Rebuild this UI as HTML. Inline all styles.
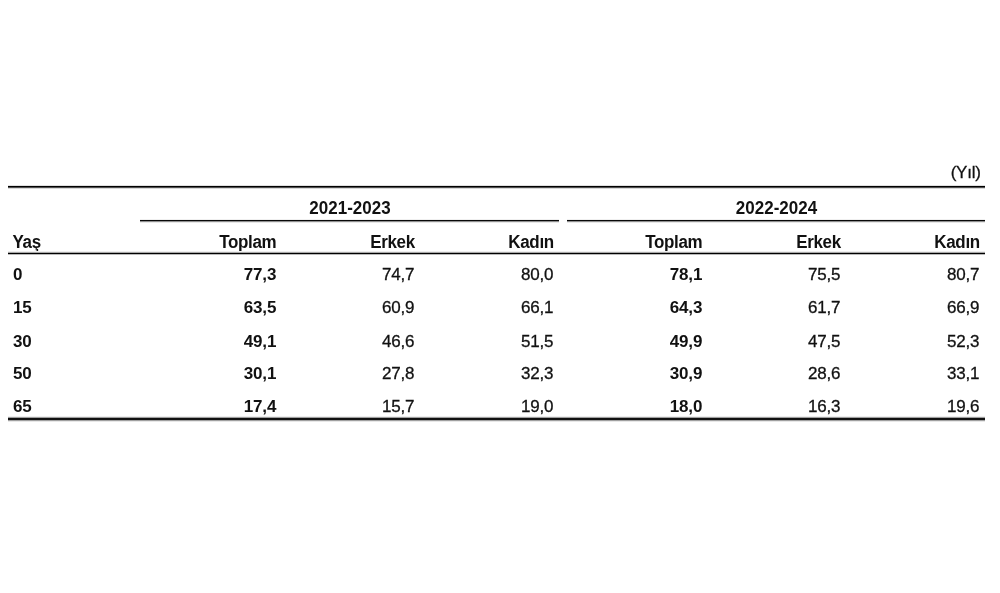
<!DOCTYPE html>
<html><head><meta charset="utf-8"><style>
html,body{margin:0;padding:0;background:#fff;width:1000px;height:593px;overflow:hidden}
.t{position:absolute;font-family:"Liberation Sans",sans-serif;font-size:17px;line-height:normal;white-space:nowrap;color:#111;transform-origin:0 15.38px;transform:translateZ(0) scaleY(1.03)}
.r{-webkit-text-stroke:0.3px #111}
.l{position:absolute}
</style></head><body>
<div class="t r" style="top:163.42px;right:19.20px;text-align:right;letter-spacing:-0.2px;transform:translateZ(0) scaleY(1.0);">(Yıl)</div>
<div class="l" style="left:8px;width:976.5px;top:185px;height:1px;background:#e0e0e0"></div>
<div class="l" style="left:8px;width:976.5px;top:186px;height:1px;background:#000"></div>
<div class="l" style="left:8px;width:976.5px;top:187px;height:1px;background:#505050"></div>
<div class="l" style="left:8px;width:976.5px;top:188px;height:1px;background:#d8d8d8"></div>
<div class="t" style="top:198.62px;left:250.00px;width:200px;text-align:center;font-weight:bold;transform:translateZ(0) scaleY(1.03);">2021-2023</div>
<div class="t" style="top:198.62px;left:676.50px;width:200px;text-align:center;font-weight:bold;transform:translateZ(0) scaleY(1.03);">2022-2024</div>
<div class="l" style="left:140px;width:419px;top:219px;height:1px;background:#f0f0f0"></div>
<div class="l" style="left:140px;width:419px;top:220px;height:1px;background:#080808"></div>
<div class="l" style="left:140px;width:419px;top:221px;height:1px;background:#909090"></div>
<div class="l" style="left:140px;width:419px;top:222px;height:1px;background:#e8e8e8"></div>
<div class="l" style="left:567px;width:417.5px;top:219px;height:1px;background:#f0f0f0"></div>
<div class="l" style="left:567px;width:417.5px;top:220px;height:1px;background:#080808"></div>
<div class="l" style="left:567px;width:417.5px;top:221px;height:1px;background:#909090"></div>
<div class="l" style="left:567px;width:417.5px;top:222px;height:1px;background:#e8e8e8"></div>
<div class="t" style="top:232.81px;left:12.50px;font-weight:bold;letter-spacing:-0.35px;transform:translateZ(0) scaleY(1.03);">Yaş</div>
<div class="t" style="top:232.81px;right:723.70px;text-align:right;font-weight:bold;letter-spacing:-0.35px;transform:translateZ(0) scaleY(1.03);">Toplam</div>
<div class="t" style="top:232.81px;right:585.20px;text-align:right;font-weight:bold;letter-spacing:-0.35px;transform:translateZ(0) scaleY(1.03);">Erkek</div>
<div class="t" style="top:232.81px;right:446.20px;text-align:right;font-weight:bold;letter-spacing:-0.35px;transform:translateZ(0) scaleY(1.03);">Kadın</div>
<div class="t" style="top:232.81px;right:297.70px;text-align:right;font-weight:bold;letter-spacing:-0.35px;transform:translateZ(0) scaleY(1.03);">Toplam</div>
<div class="t" style="top:232.81px;right:159.20px;text-align:right;font-weight:bold;letter-spacing:-0.35px;transform:translateZ(0) scaleY(1.03);">Erkek</div>
<div class="t" style="top:232.81px;right:20.20px;text-align:right;font-weight:bold;letter-spacing:-0.35px;transform:translateZ(0) scaleY(1.03);">Kadın</div>
<div class="l" style="left:8px;width:976.5px;top:251px;height:1px;background:#eeeeee"></div>
<div class="l" style="left:8px;width:976.5px;top:252px;height:1px;background:#a8a8a8"></div>
<div class="l" style="left:8px;width:976.5px;top:253px;height:1px;background:#000"></div>
<div class="l" style="left:8px;width:976.5px;top:254px;height:1px;background:#b8b8b8"></div>
<div class="t" style="top:264.62px;left:12.90px;font-weight:bold;transform:translateZ(0) scaleY(1.0);">0</div>
<div class="t" style="top:264.62px;right:723.80px;text-align:right;font-weight:bold;letter-spacing:-0.15px;transform:translateZ(0) scaleY(1.0);">77,3</div>
<div class="t r" style="top:264.62px;right:585.80px;text-align:right;letter-spacing:-0.25px;transform:translateZ(0) scaleY(1.0);">74,7</div>
<div class="t r" style="top:264.62px;right:446.80px;text-align:right;letter-spacing:-0.25px;transform:translateZ(0) scaleY(1.0);">80,0</div>
<div class="t" style="top:264.62px;right:297.80px;text-align:right;font-weight:bold;letter-spacing:-0.15px;transform:translateZ(0) scaleY(1.0);">78,1</div>
<div class="t r" style="top:264.62px;right:159.80px;text-align:right;letter-spacing:-0.25px;transform:translateZ(0) scaleY(1.0);">75,5</div>
<div class="t r" style="top:264.62px;right:20.80px;text-align:right;letter-spacing:-0.25px;transform:translateZ(0) scaleY(1.0);">80,7</div>
<div class="t" style="top:298.42px;left:12.90px;font-weight:bold;transform:translateZ(0) scaleY(1.0);">15</div>
<div class="t" style="top:298.42px;right:723.80px;text-align:right;font-weight:bold;letter-spacing:-0.15px;transform:translateZ(0) scaleY(1.0);">63,5</div>
<div class="t r" style="top:298.42px;right:585.80px;text-align:right;letter-spacing:-0.25px;transform:translateZ(0) scaleY(1.0);">60,9</div>
<div class="t r" style="top:298.42px;right:446.80px;text-align:right;letter-spacing:-0.25px;transform:translateZ(0) scaleY(1.0);">66,1</div>
<div class="t" style="top:298.42px;right:297.80px;text-align:right;font-weight:bold;letter-spacing:-0.15px;transform:translateZ(0) scaleY(1.0);">64,3</div>
<div class="t r" style="top:298.42px;right:159.80px;text-align:right;letter-spacing:-0.25px;transform:translateZ(0) scaleY(1.0);">61,7</div>
<div class="t r" style="top:298.42px;right:20.80px;text-align:right;letter-spacing:-0.25px;transform:translateZ(0) scaleY(1.0);">66,9</div>
<div class="t" style="top:331.62px;left:12.90px;font-weight:bold;transform:translateZ(0) scaleY(1.0);">30</div>
<div class="t" style="top:331.62px;right:723.80px;text-align:right;font-weight:bold;letter-spacing:-0.15px;transform:translateZ(0) scaleY(1.0);">49,1</div>
<div class="t r" style="top:331.62px;right:585.80px;text-align:right;letter-spacing:-0.25px;transform:translateZ(0) scaleY(1.0);">46,6</div>
<div class="t r" style="top:331.62px;right:446.80px;text-align:right;letter-spacing:-0.25px;transform:translateZ(0) scaleY(1.0);">51,5</div>
<div class="t" style="top:331.62px;right:297.80px;text-align:right;font-weight:bold;letter-spacing:-0.15px;transform:translateZ(0) scaleY(1.0);">49,9</div>
<div class="t r" style="top:331.62px;right:159.80px;text-align:right;letter-spacing:-0.25px;transform:translateZ(0) scaleY(1.0);">47,5</div>
<div class="t r" style="top:331.62px;right:20.80px;text-align:right;letter-spacing:-0.25px;transform:translateZ(0) scaleY(1.0);">52,3</div>
<div class="t" style="top:364.42px;left:12.90px;font-weight:bold;transform:translateZ(0) scaleY(1.0);">50</div>
<div class="t" style="top:364.42px;right:723.80px;text-align:right;font-weight:bold;letter-spacing:-0.15px;transform:translateZ(0) scaleY(1.0);">30,1</div>
<div class="t r" style="top:364.42px;right:585.80px;text-align:right;letter-spacing:-0.25px;transform:translateZ(0) scaleY(1.0);">27,8</div>
<div class="t r" style="top:364.42px;right:446.80px;text-align:right;letter-spacing:-0.25px;transform:translateZ(0) scaleY(1.0);">32,3</div>
<div class="t" style="top:364.42px;right:297.80px;text-align:right;font-weight:bold;letter-spacing:-0.15px;transform:translateZ(0) scaleY(1.0);">30,9</div>
<div class="t r" style="top:364.42px;right:159.80px;text-align:right;letter-spacing:-0.25px;transform:translateZ(0) scaleY(1.0);">28,6</div>
<div class="t r" style="top:364.42px;right:20.80px;text-align:right;letter-spacing:-0.25px;transform:translateZ(0) scaleY(1.0);">33,1</div>
<div class="t" style="top:396.51px;left:12.90px;font-weight:bold;transform:translateZ(0) scaleY(1.0);">65</div>
<div class="t" style="top:396.51px;right:723.80px;text-align:right;font-weight:bold;letter-spacing:-0.15px;transform:translateZ(0) scaleY(1.0);">17,4</div>
<div class="t r" style="top:396.51px;right:585.80px;text-align:right;letter-spacing:-0.25px;transform:translateZ(0) scaleY(1.0);">15,7</div>
<div class="t r" style="top:396.51px;right:446.80px;text-align:right;letter-spacing:-0.25px;transform:translateZ(0) scaleY(1.0);">19,0</div>
<div class="t" style="top:396.51px;right:297.80px;text-align:right;font-weight:bold;letter-spacing:-0.15px;transform:translateZ(0) scaleY(1.0);">18,0</div>
<div class="t r" style="top:396.51px;right:159.80px;text-align:right;letter-spacing:-0.25px;transform:translateZ(0) scaleY(1.0);">16,3</div>
<div class="t r" style="top:396.51px;right:20.80px;text-align:right;letter-spacing:-0.25px;transform:translateZ(0) scaleY(1.0);">19,6</div>
<div class="l" style="left:8px;width:976.5px;top:416px;height:1px;background:#eeeeee"></div>
<div class="l" style="left:8px;width:976.5px;top:417px;height:1px;background:#a0a0a0"></div>
<div class="l" style="left:8px;width:976.5px;top:418px;height:2px;background:#111"></div>
<div class="l" style="left:8px;width:976.5px;top:420px;height:1px;background:#a0a0a0"></div>
<div class="l" style="left:8px;width:976.5px;top:421px;height:1px;background:#e8e8e8"></div>
</body></html>
